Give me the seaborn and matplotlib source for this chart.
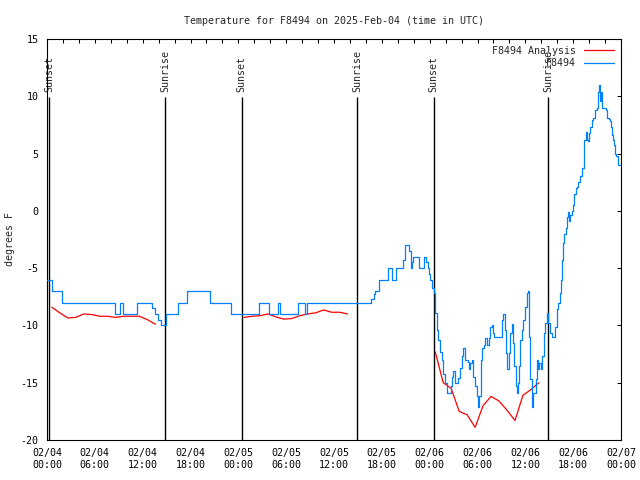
import numpy as np
import pandas as pd
import seaborn as sns
import matplotlib
matplotlib.use("Agg")
import matplotlib.pyplot as plt
import matplotlib.dates as mdates
from matplotlib.lines import Line2D

sns.set_style("white")
plt.rcParams["font.family"] = ["DejaVu Sans Mono", "DejaVu Sans"]
plt.rcParams["axes.unicode_minus"] = False

title = "Temperature for F8494 on 2025-Feb-04 (time in UTC)"
ylabel = "degrees F"
station_label = "F8494"
analysis_label = "F8494 Analysis"
start = pd.Timestamp("2025-02-04 00:00")

# Observed temperature (hours since start, degrees F)
obs_hours = [0, 0.6, 1.9, 8.5, 9.2, 9.5, 11.3, 13.2, 13.5, 13.9, 14.3, 14.9, 16.4, 17.6,
             20.5, 23.1, 26.6, 27.9, 29.0, 29.2, 31.5, 32.4, 32.6, 40.7, 41.0, 41.2, 41.6,
             42.8, 43.3, 43.8, 44.6, 44.9, 45.4, 45.6, 45.8, 45.9, 46.6, 47.3, 47.5, 47.8,
             47.9, 48.1, 48.3, 48.5, 48.7, 48.9, 49.1, 49.3, 49.5, 49.7, 49.9, 50.15, 50.5,
             50.65, 50.85, 50.95, 51.2, 51.5, 51.6, 51.8, 52.0, 52.2, 52.45, 52.75, 52.95,
             53.1, 53.3, 53.4, 53.7, 53.9, 54.05, 54.25, 54.4, 54.55, 54.85, 54.95, 55.2,
             55.4, 55.6, 55.8, 55.9, 56.1, 56.95, 57.05, 57.25, 57.4, 57.6, 57.75, 57.9,
             58.1, 58.3, 58.5, 58.6, 58.8, 58.95, 59.05, 59.2, 59.35, 59.55, 59.75, 59.95,
             60.2, 60.3, 60.45, 60.6, 60.8, 60.95, 61.25, 61.35, 61.5, 61.65, 61.75, 61.95,
             62.05, 62.3, 62.5, 62.7, 62.9, 63.1, 63.3, 63.5, 63.7, 63.95, 64.15, 64.35,
             64.45, 64.6, 64.7, 64.9, 65.1, 65.2, 65.3, 65.5, 65.6, 65.8, 66.0, 66.15, 66.3,
             66.5, 66.65, 66.85, 67.1, 67.3, 67.4, 67.6, 67.7, 67.85, 67.95, 68.1, 68.35,
             68.55, 68.75, 68.95, 69.15, 69.3, 69.4, 69.5, 69.6, 70.0, 70.15, 70.2, 70.45,
             70.65, 70.75, 70.85, 70.95, 71.15, 71.3, 71.4, 71.6, 72.0]
obs_temps = [-6, -7, -8, -9, -8, -9, -8, -8.5, -9, -9.5, -10, -9, -8, -7,
             -8, -9, -8, -9, -8, -9, -8, -9, -8, -7.7, -7.3, -7, -6,
             -5, -6, -5, -4.3, -3, -3.5, -5, -4.5, -4, -5, -4, -4.5, -5,
             -5.5, -6, -6.7, -7.2, -8.9, -10.4, -11.3, -12.3, -13.0, -14.2, -15.0, -15.9, -15.9,
             -15.3, -14.5, -14.0, -15.0, -15.0, -14.6, -13.7, -12.7, -12.0, -13.0, -13.2, -13.8,
             -13.3, -13.0, -14.5, -15.3, -16.2, -17.1, -16.2, -13.0, -12.0, -11.7, -11.1, -11.7,
             -11.1, -10.1, -10.0, -10.7, -11.0, -11.0, -9.5, -9.0, -10.4, -12.4, -13.8, -12.4,
             -10.7, -9.9, -11.5, -13.5, -15.3, -15.9, -15.0, -13.5, -11.3, -10.4, -9.5, -8.4,
             -7.2, -7.0, -11.0, -14.7, -17.1, -15.9, -15.9, -14.7, -13.0, -13.8, -13.3, -13.8,
             -12.7, -10.7, -9.8, -8.9, -9.8, -10.7, -11.0, -11.0, -10.1, -8.6, -8.0, -7.2,
             -6.0, -4.3, -2.8, -2.0, -1.5, -0.5, -0.1, -0.9, -0.4, 0.0, 0.5, 1.5, 2.0,
             2.1, 2.5, 3.0, 3.7, 4.7, 6.2, 6.9, 6.2, 6.1, 6.8, 7.35, 7.9,
             8.1, 8.8, 9.0, 10.4, 11.0, 9.6, 10.4, 9.0, 9.0, 8.8, 8.1, 8.0,
             7.8, 7.3, 6.6, 6.2, 5.75, 5.0, 4.8, 4.0, 4.0]

# Analysis temperature (hourly), three separate runs
ana_hours = [0.6, 1.6, 2.6, 3.6, 4.6, 5.6, 6.6, 7.6, 8.6, 9.6, 10.6, 11.6, 12.6, 13.6,
             24.7, 25.7, 26.7, 27.7, 28.7, 29.7, 30.7, 31.7, 32.7, 33.7, 34.7, 35.7, 36.7, 37.7,
             48.7, 49.7, 50.7, 51.7, 52.7, 53.7, 54.7, 55.7, 56.7, 57.7, 58.7, 59.7, 60.7, 61.7]
ana_temps = [-8.4, -8.9, -9.35, -9.3, -9.0, -9.05, -9.2, -9.2, -9.3, -9.2, -9.2, -9.2, -9.5, -9.9,
             -9.3, -9.2, -9.15, -9.0, -9.25, -9.45, -9.4, -9.15, -9.0, -8.9, -8.65, -8.85, -8.85, -9.0,
             -12.3, -15.0, -15.5, -17.5, -17.8, -18.9, -17.0, -16.2, -16.6, -17.4, -18.3, -16.1, -15.6, -15.0]
ana_run = [1] * 14 + [2] * 14 + [3] * 14

# Sunrise / sunset markers
event_hours = [0.29, 14.85, 24.4, 38.9, 48.5, 62.9]
event_labels = ["Sunset", "Sunrise", "Sunset", "Sunrise", "Sunset", "Sunrise"]

y_ticks = [-20, -15, -10, -5, 0, 5, 10, 15]

obs = pd.DataFrame({"time": start + pd.to_timedelta(obs_hours, unit="h"), "temp": obs_temps})
ana = pd.DataFrame({"time": start + pd.to_timedelta(ana_hours, unit="h"), "temp": ana_temps,
                    "run": ana_run})
events = start + pd.to_timedelta(event_hours, unit="h")

fig = plt.figure(figsize=(6.4, 4.8), dpi=100)
ax = fig.add_axes([47 / 640, 1 - 440 / 480, 574 / 640, 401 / 480])

blue = "#0080ff"
red = "#ff0000"

ax.vlines(events, -20, 9.9, color="black", lw=1.0, zorder=1)
for t, lab in zip(events, event_labels):
    ax.text(t, 10.4, lab, rotation=90, ha="center", va="bottom", fontsize=7.2, zorder=2)

sns.lineplot(data=ana, x="time", y="temp", units="run", estimator=None, sort=False,
             color=red, lw=0.9, ax=ax, legend=False, zorder=3)
sns.lineplot(data=obs, x="time", y="temp", estimator=None, sort=False,
             color=blue, lw=0.9, drawstyle="steps-post", ax=ax, legend=False, zorder=4)

ax.set_xlim(start, start + pd.Timedelta(hours=72))
ax.set_ylim(-20, 15)
ax.set_yticks(y_ticks)
ax.set_yticklabels([str(v) for v in y_ticks])
ax.xaxis.set_major_locator(mdates.HourLocator(byhour=[0, 6, 12, 18]))
ax.xaxis.set_minor_locator(mdates.HourLocator(byhour=list(range(0, 24, 2))))
ax.xaxis.set_major_formatter(mdates.DateFormatter("%m/%d\n%H:%M"))

ax.tick_params(axis="both", which="both", direction="in", top=True, right=True,
               length=3, width=0.75, color="black", labelsize=7.2, labelcolor="black")
ax.tick_params(axis="x", which="major", pad=6)
ax.tick_params(axis="y", which="major", pad=6)
for s in ax.spines.values():
    s.set_visible(True)
    s.set_color("black")
    s.set_linewidth(0.8)

ax.set_xlabel("")
ax.set_ylabel(ylabel, fontsize=7.2, labelpad=4)
ax.set_title(title, fontsize=7.2, pad=11)

handles = [Line2D([], [], color=red, lw=0.9), Line2D([], [], color=blue, lw=0.9)]
ax.legend(handles, [analysis_label, station_label], loc="upper right", frameon=False,
          markerfirst=False, fontsize=7.2, handlelength=3.0, handletextpad=0.8,
          borderaxespad=0.3, labelspacing=0.25, alignment="right")

fig.savefig("out.png", dpi=100, facecolor="white")
